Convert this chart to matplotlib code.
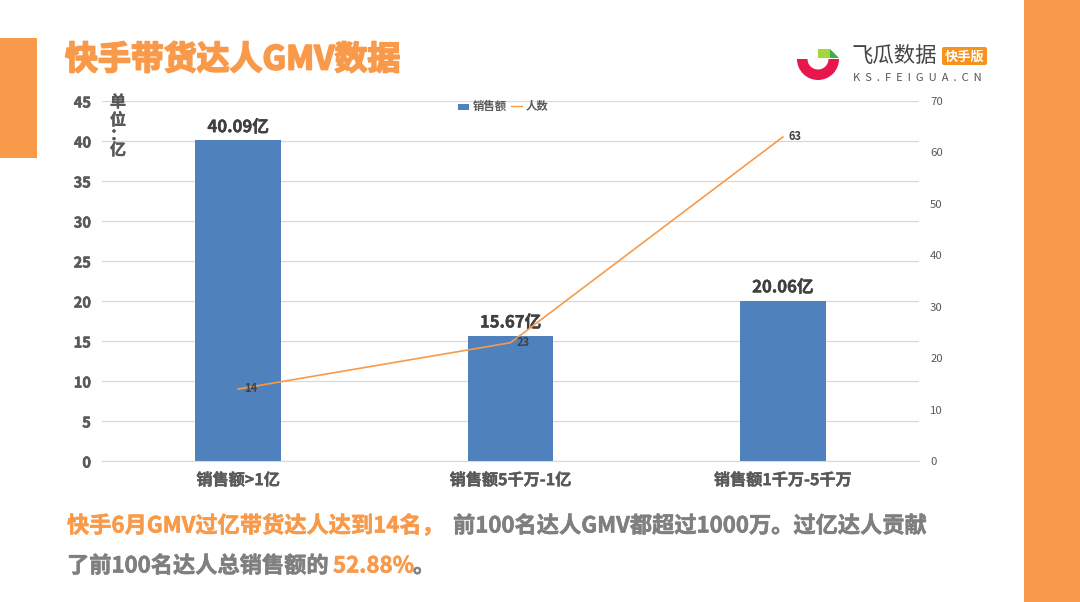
import matplotlib
matplotlib.use('Agg')
import matplotlib.pyplot as plt
import matplotlib.patheffects as pe
from matplotlib.patches import Rectangle, Wedge, Polygon, FancyBboxPatch

plt.rcParams['font.family'] = ['Noto Sans CJK SC', 'DejaVu Sans']

categories = ['销售额>1亿', '销售额5千万-1亿', '销售额1千万-5千万']
sales = [40.09, 15.67, 20.06]
sales_labels = ['40.09亿', '15.67亿', '20.06亿']
people = [14, 23, 63]
left_ticks = [0, 5, 10, 15, 20, 25, 30, 35, 40, 45]
right_ticks = [0, 10, 20, 30, 40, 50, 60, 70]

ORANGE = '#F9994A'
BLUE = '#4F81BD'
GRAY = '#595959'
TEXT_GRAY = '#7F7F7F'
W, H = 1080, 602


def px(x, y):
    return x / W, 1 - y / H


def heavy(width):
    return [pe.withStroke(linewidth=width, foreground='none')]


def thicken(text, width):
    text.set_path_effects([pe.Stroke(linewidth=width, foreground=text.get_color()), pe.Normal()])


fig = plt.figure(figsize=(W / 100, H / 100), dpi=100, facecolor='white')

# decorative blocks
fig.add_artist(Rectangle(px(0, 158), 37 / W, 120 / H, transform=fig.transFigure, color=ORANGE, lw=0))
fig.add_artist(Rectangle(px(1024, 602), 56 / W, 1, transform=fig.transFigure, color=ORANGE, lw=0))

# main chart
ax = fig.add_axes([102 / W, 1 - 461 / H, 817 / W, 360 / H])
x = list(range(len(categories)))
ax.bar(x, sales, width=0.315, color=BLUE, zorder=2)
ax.set_xlim(-0.5, 2.5)
ax.set_ylim(0, 45)
ax.set_yticks(left_ticks)
ax.set_xticks(x)
ax.set_xticklabels(categories, fontsize=11.6, fontweight='bold', color=GRAY)
ax.tick_params(axis='y', length=0, pad=8, labelsize=10.5, labelcolor=GRAY)
ax.tick_params(axis='x', length=0, pad=8)
for t in ax.get_yticklabels():
    t.set_fontweight('bold')
    thicken(t, 0.4)
for t in ax.get_xticklabels():
    thicken(t, 0.3)
ax.grid(axis='y', color='#D9D9D9', lw=0.9, zorder=0)
ax.set_axisbelow(True)
for s in ['top', 'left', 'right']:
    ax.spines[s].set_visible(False)
ax.spines['bottom'].set_color('#D9D9D9')

for i, v in enumerate(sales):
    t = ax.annotate(sales_labels[i], (i, v), xytext=(0, 3), textcoords='offset points', ha='center', va='bottom',
                    fontsize=12, fontweight='bold', color='#404040', zorder=5)
    thicken(t, 0.3)

ax2 = ax.twinx()
ax2.plot(x, people, color=ORANGE, lw=1.2, zorder=3)
ax2.set_ylim(0, 70)
ax2.set_yticks(right_ticks)
ax2.tick_params(axis='y', length=0, pad=8, labelsize=8.2, labelcolor=GRAY)
for s in ax2.spines.values():
    s.set_visible(False)
for i, v in enumerate(people):
    ax2.annotate(str(v), (i, v), xytext=(9, 0), textcoords='offset points', ha='center', va='center',
                 fontsize=8, fontweight='bold', color='#404040')

# legend drawn by hand to keep the tight spacing
fig.add_artist(Rectangle(px(458, 110), 11 / W, 6 / H, transform=fig.transFigure, color=BLUE, lw=0))
fig.text(473 / W, 1 - 106 / H, '销售额', fontsize=8.2, fontweight='bold', color=GRAY, va='center')
fig.add_artist(plt.Line2D([511 / W, 522 / W], [1 - 106 / H] * 2, color=ORANGE, lw=1))
fig.text(526 / W, 1 - 106 / H, '人数', fontsize=8.2, fontweight='bold', color=GRAY, va='center')

# vertical unit label
for txt, yy in zip(['单', '位', '：', '亿'], [102, 120, 135, 150]):
    t = fig.text(118 / W, 1 - yy / H, txt, fontsize=11.5, fontweight='bold', color=GRAY, ha='center', va='center')
    thicken(t, 0.3)

# title
title = fig.text(65 / W, 1 - 60 / H, '快手带货达人GMV数据', fontsize=23.7, fontweight='bold', color=ORANGE, va='center')
thicken(title, 1.3)

# logo
logo = fig.add_axes([790 / W, 1 - 90 / H, 60 / W, 60 / H])
logo.set_xlim(790, 850)
logo.set_ylim(90, 30)
logo.axis('off')
logo.add_patch(Wedge((818, 59), 21, 0, 180, width=10.5, color='#E8174B', lw=0))
logo.add_patch(Rectangle((818, 49), 12, 9, color='#A5D63A', lw=0))
logo.add_patch(Polygon([[830, 49], [839, 58], [830, 58]], color='#3FAE49', lw=0))

fig.text(852 / W, 1 - 56 / H, '飞瓜数据', fontsize=15.4, color='#444444', va='center')
badge = fig.add_axes([0, 0, 1, 1], facecolor='none')
badge.set_xlim(0, W)
badge.set_ylim(H, 0)
badge.axis('off')
badge.add_patch(FancyBboxPatch((944, 49), 41, 14, boxstyle='round,pad=2', color='#F7921E', lw=0))
fig.text(964.5 / W, 1 - 56.5 / H, '快手版', fontsize=9.5, fontweight='bold', color='white', ha='center', va='center')
fig.text(853 / W, 1 - 78 / H, 'K  S  .  F  E  I  G  U  A  .  C  N', fontsize=8, color='#555555', va='center')

# bottom text, pieces coloured separately
line1 = [('快手6月GMV过亿带货达人达到14名，', ORANGE, 67), ('前100名达人GMV都超过1000万。过亿达人贡献', TEXT_GRAY, 453)]
line2 = [('了前100名达人总销售额的', TEXT_GRAY, 67), ('52.88%', ORANGE, 333), ('。', TEXT_GRAY, 413)]
for row, yy in [(line1, 526), (line2, 566)]:
    for txt, col, xx in row:
        t = fig.text(xx / W, 1 - yy / H, txt, fontsize=16, fontweight='bold', color=col, va='center')
        thicken(t, 0.4)

fig.savefig('out.png', dpi=100, facecolor='white')
